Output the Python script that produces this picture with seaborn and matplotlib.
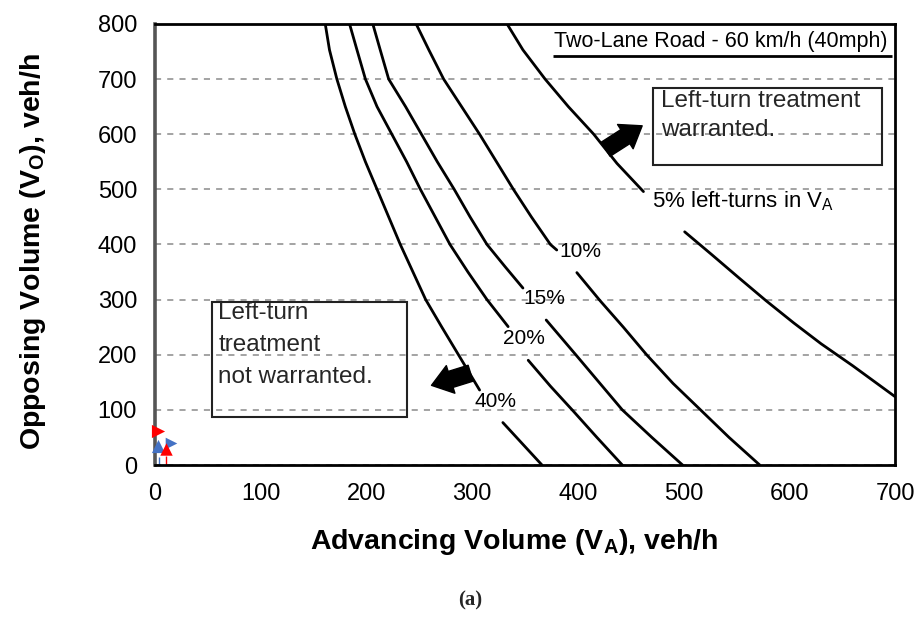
import pandas as pd
import matplotlib.pyplot as plt
from matplotlib.patches import Rectangle
import seaborn as sns

# Curves, each split in two where the % label sits
va_5_upper = [333, 348, 369, 391, 415, 437, 462]
vo_5_upper = [800, 753, 700, 650, 600, 547, 496]
va_5_lower = [501, 527, 552, 578, 604, 630, 660, 700]
vo_5_lower = [423, 381, 340, 298, 258, 220, 180, 124]

va_10_upper = [247, 259, 273, 290, 307, 323, 339, 356, 374, 380]
vo_10_upper = [800, 753, 700, 650, 600, 550, 500, 450, 400, 390]
va_10_lower = [399, 421, 443, 465, 490, 516, 543, 572]
vo_10_lower = [349, 298, 250, 200, 148, 100, 50, 0]

va_15_upper = [206, 213, 221, 237, 252, 267, 283, 298, 314, 331, 348]
vo_15_upper = [800, 753, 700, 650, 600, 550, 500, 450, 400, 360, 321]
va_15_lower = [370, 398, 420, 442, 470, 499]
vo_15_lower = [263, 200, 150, 100, 50, 0]

va_20_upper = [184, 191, 199, 210, 224, 238, 251, 265, 279, 296, 314, 334]
vo_20_upper = [800, 753, 700, 650, 600, 550, 500, 450, 400, 350, 300, 251]
va_20_lower = [353, 374, 396, 418, 442]
vo_20_lower = [190, 143, 97, 50, 0]

va_40_upper = [161, 165, 172, 180, 189, 199, 210, 221, 232, 244, 256, 271, 287, 307]
vo_40_upper = [800, 753, 700, 650, 600, 550, 500, 450, 400, 350, 300, 251, 200, 136]
va_40_lower = [329, 366]
vo_40_lower = [77, 0]

# curve labels
pct_labels = ['10%', '15%', '20%', '40%']
pct_label_va = [402, 368, 349, 322]
pct_label_vo = [387, 302, 230, 115]

# small markers near the origin
red_tri_va = [2.4, 10]
red_tri_vo = [61, 29]
blue_tri_va = [2.8, 15]
blue_tri_vo = [34, 40]

x_ticks = [0, 100, 200, 300, 400, 500, 600, 700]
y_ticks = [0, 100, 200, 300, 400, 500, 600, 700, 800]


def build_curve_frame():
    pieces = [
        (va_5_upper, vo_5_upper), (va_5_lower, vo_5_lower),
        (va_10_upper, vo_10_upper), (va_10_lower, vo_10_lower),
        (va_15_upper, vo_15_upper), (va_15_lower, vo_15_lower),
        (va_20_upper, vo_20_upper), (va_20_lower, vo_20_lower),
        (va_40_upper, vo_40_upper), (va_40_lower, vo_40_lower),
    ]
    frames = []
    for i, (va, vo) in enumerate(pieces):
        frames.append(pd.DataFrame({'va': va, 'vo': vo, 'piece': i}))
    return pd.concat(frames, ignore_index=True)


sns.set_theme(style='white')
plt.rcParams['font.family'] = ['Liberation Sans', 'DejaVu Sans']
plt.rcParams['mathtext.fontset'] = 'custom'
plt.rcParams['mathtext.rm'] = 'Liberation Sans'
plt.rcParams['mathtext.bf'] = 'Liberation Sans:bold'

fig = plt.figure(figsize=(9.23, 6.2), dpi=100)
ax = fig.add_axes([0.168, 0.25, 0.8017, 0.7113])

df = build_curve_frame()
sns.lineplot(data=df, x='va', y='vo', units='piece', estimator=None, sort=False,
             color='black', linewidth=2.0, ax=ax, legend=False)

ax.set_xlim(0, 700)
ax.set_ylim(0, 800)
ax.set_xticks(x_ticks)
ax.set_yticks(y_ticks)
ax.tick_params(direction='in', length=4, width=1, colors='black',
               labelsize=17, pad=13)
ax.set_axisbelow(True)
ax.yaxis.grid(True, linestyle=(0, (4, 4)), color='#8a8a8a', linewidth=1.1)
ax.xaxis.grid(False)
for side in ['top', 'right', 'bottom']:
    ax.spines[side].set_color('black')
    ax.spines[side].set_linewidth(2)
ax.spines['left'].set_color('#555555')
ax.spines['left'].set_linewidth(2.6)

ax.set_xlabel(r'Advancing Volume (V$_\mathbf{A}$), veh/h', fontsize=20.5,
              fontweight='bold', color='black')
ax.set_ylabel(r'Opposing Volume (V$_\mathbf{O}$), veh/h', fontsize=20.5,
              fontweight='bold', color='black')
ax.xaxis.set_label_coords(0.485, -0.14)
ax.yaxis.set_label_coords(-0.145, 0.483)

# curve labels
for lab, x, y in zip(pct_labels, pct_label_va, pct_label_vo):
    ax.text(x, y, lab, fontsize=15, ha='center', va='center', color='black')
ax.text(470, 479, r'5% left-turns in V$_\mathregular{A}$', fontsize=16,
        ha='left', va='center', color='black')

# heading with underline
ax.text(693, 769, 'Two-Lane Road - 60 km/h (40mph)', fontsize=15.5,
        ha='right', va='center', color='black')
ax.hlines(742, 376, 697, color='black', linewidth=2)

# region boxes
ax.add_patch(Rectangle((471, 544), 217, 140, fill=False, edgecolor='#222222',
                       linewidth=1.5))
ax.text(479, 661, 'Left-turn treatment', fontsize=17.5, ha='left', va='center')
ax.text(479, 607, 'warranted.', fontsize=17.5, ha='left', va='center')

ax.add_patch(Rectangle((54, 87), 184, 209, fill=False, edgecolor='#222222',
                       linewidth=1.5))
ax.text(60, 276, 'Left-turn', fontsize=17.5, ha='left', va='center')
ax.text(60, 218, 'treatment', fontsize=17.5, ha='left', va='center')
ax.text(60, 160, 'not warranted.', fontsize=17.5, ha='left', va='center')

# block arrows
arrow_style = 'simple,head_length=0.9,head_width=1.3,tail_width=0.75'
ax.annotate('', xy=(463, 618), xytext=(424, 570),
            arrowprops=dict(arrowstyle=arrow_style, fc='black', ec='black',
                            mutation_scale=16))
ax.annotate('', xy=(259, 143), xytext=(301, 168),
            arrowprops=dict(arrowstyle=arrow_style, fc='black', ec='black',
                            mutation_scale=16))

# little markers at the origin
ax.vlines(3.8, 0, 15, color='#4472c4', linewidth=1, clip_on=False)
ax.vlines(10.5, 0, 16, color='red', linewidth=1, clip_on=False)
ax.scatter(blue_tri_va[:1], blue_tri_vo[:1], marker='^', s=90, color='#4472c4',
           clip_on=False, zorder=5, linewidths=0)
ax.scatter(blue_tri_va[1:], blue_tri_vo[1:], marker='>', s=70, color='#4472c4',
           clip_on=False, zorder=5, linewidths=0)
ax.scatter(red_tri_va[:1], red_tri_vo[:1], marker='>', s=90, color='red',
           clip_on=False, zorder=6, linewidths=0)
ax.scatter(red_tri_va[1:], red_tri_vo[1:], marker='^', s=80, color='red',
           clip_on=False, zorder=6, linewidths=0)

fig.text(0.509, 0.032, '(a)', fontsize=15, fontweight='bold',
         family=['Liberation Serif', 'DejaVu Serif'], ha='center', va='center')

fig.savefig('out.png', dpi=100, facecolor='white')
